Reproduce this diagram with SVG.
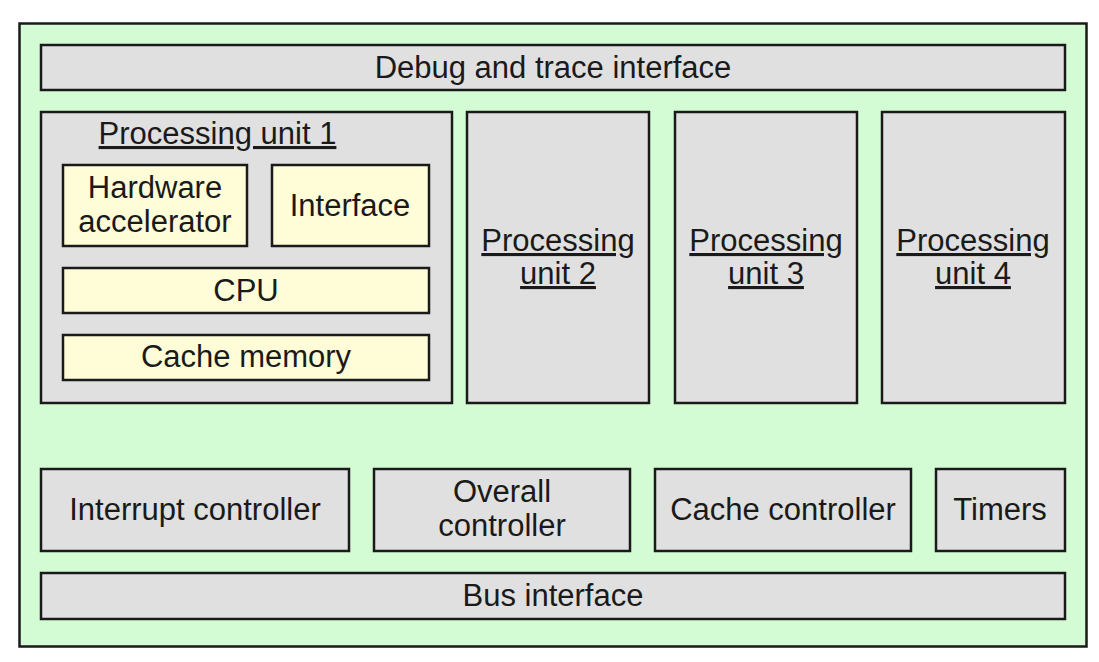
<svg xmlns="http://www.w3.org/2000/svg" width="1099" height="662" viewBox="0 0 1099 662">
<style>
.box{stroke:#1a1a1a;stroke-width:2.5}
.g{fill:#e0e0e0}
.y{fill:#fffdd8}
text{font-family:"Liberation Sans",Arial,sans-serif;font-size:31px;fill:#1a1a1a;text-anchor:middle}
.u{text-decoration:underline}
</style>
<rect width="1099" height="662" fill="#ffffff"/>
<g id="chip"><rect class="box" x="19.5" y="23.5" width="1067" height="623" fill="#d4fcd4"/></g>
<g id="debug"><rect class="box g" x="41" y="45" width="1024" height="45"/><text x="553" y="78">Debug and trace interface</text></g>
<g id="pu1"><rect class="box g" x="41" y="112" width="411" height="291"/><text class="u" x="217.5" y="144">Processing unit 1</text></g>
<g id="hwacc"><rect class="box y" x="63" y="165" width="184" height="81"/><text x="155" y="198">Hardware</text><text x="155" y="232">accelerator</text></g>
<g id="iface"><rect class="box y" x="272" y="165" width="157" height="81"/><text x="350" y="216">Interface</text></g>
<g id="cpu"><rect class="box y" x="63" y="268" width="366" height="45"/><text x="246" y="301">CPU</text></g>
<g id="cachemem"><rect class="box y" x="63" y="335" width="366" height="45"/><text x="246" y="367">Cache memory</text></g>
<g id="pu2"><rect class="box g" x="467" y="112" width="182" height="291"/><text class="u" x="558" y="251">Processing</text><text class="u" x="558" y="284">unit 2</text></g>
<g id="pu3"><rect class="box g" x="675" y="112" width="182" height="291"/><text class="u" x="766" y="251">Processing</text><text class="u" x="766" y="284">unit 3</text></g>
<g id="pu4"><rect class="box g" x="882" y="112" width="183" height="291"/><text class="u" x="973" y="251">Processing</text><text class="u" x="973" y="284">unit 4</text></g>
<g id="intctl"><rect class="box g" x="41" y="469" width="308" height="82"/><text x="195" y="520">Interrupt controller</text></g>
<g id="overall"><rect class="box g" x="374" y="469" width="256" height="82"/><text x="502" y="502">Overall</text><text x="502" y="536">controller</text></g>
<g id="cachectl"><rect class="box g" x="655" y="469" width="256" height="82"/><text x="783" y="520">Cache controller</text></g>
<g id="timers"><rect class="box g" x="936" y="469" width="129" height="82"/><text x="1000" y="520">Timers</text></g>
<g id="bus"><rect class="box g" x="41" y="573" width="1024" height="46"/><text x="553" y="606">Bus interface</text></g>
<g id="connectors"></g>
</svg>
